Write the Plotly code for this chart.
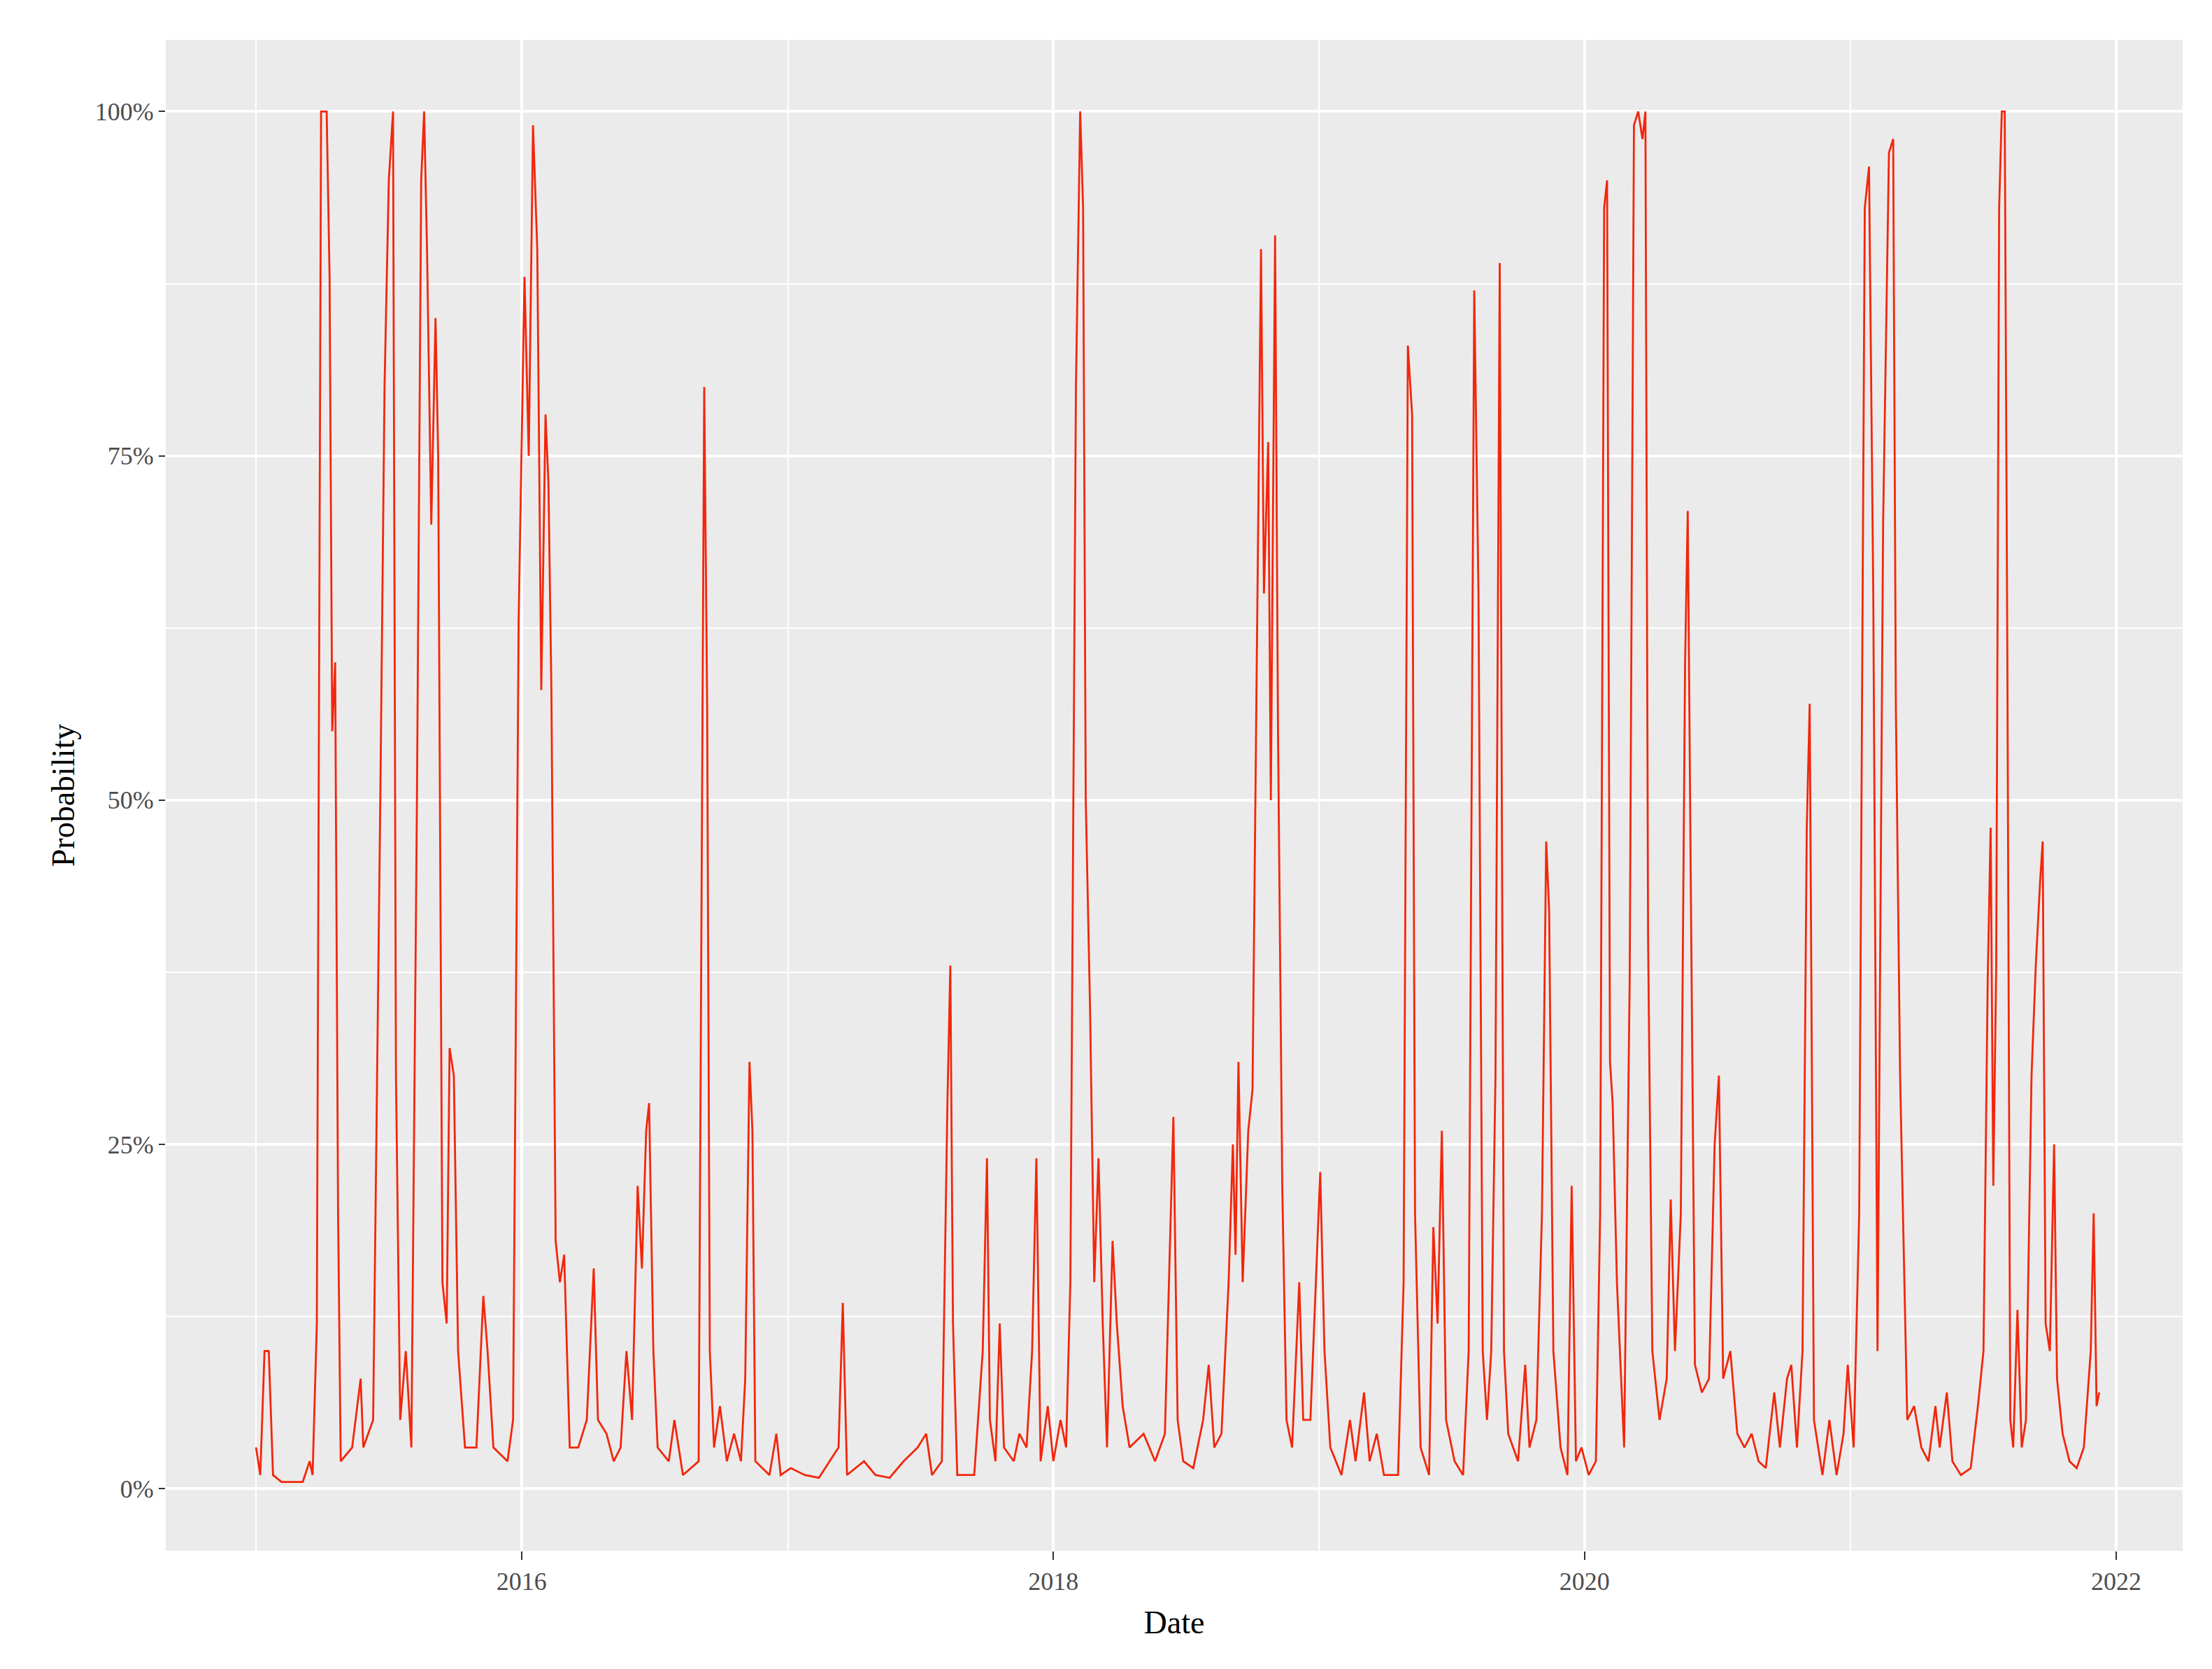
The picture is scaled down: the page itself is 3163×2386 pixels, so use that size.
import plotly.graph_objects as go
import pandas as pd
import numpy as np

# decimal-year positions and probability (%)
years = [2015.000,2015.016,2015.032,2015.048,2015.064,2015.096,2015.176,2015.202,2015.213,2015.229,2015.245,2015.266,2015.277,2015.287,2015.298,2015.309,2015.319,2015.362,2015.394,2015.404,2015.441,2015.468,2015.484,2015.500,2015.516,2015.527,2015.543,2015.564,2015.585,2015.606,2015.622,2015.633,2015.644,2015.660,2015.676,2015.686,2015.702,2015.718,2015.729,2015.745,2015.761,2015.787,2015.830,2015.856,2015.872,2015.894,2015.947,2015.968,2015.989,
2016.011,2016.027,2016.043,2016.059,2016.074,2016.090,2016.101,2016.112,2016.128,2016.144,2016.160,2016.181,2016.213,2016.245,2016.271,2016.287,2016.319,2016.346,2016.372,2016.394,2016.415,2016.436,2016.452,2016.468,2016.479,2016.495,2016.511,2016.553,2016.574,2016.606,2016.665,2016.686,2016.697,2016.707,2016.723,2016.745,2016.771,2016.798,2016.824,2016.840,2016.856,2016.867,2016.878,2016.931,2016.957,2016.973,
2017.011,2017.064,2017.117,2017.191,2017.207,2017.223,2017.287,2017.330,2017.383,2017.436,2017.489,2017.521,2017.543,2017.580,2017.601,2017.612,2017.622,2017.638,2017.702,2017.734,2017.750,2017.761,2017.782,2017.798,2017.814,2017.851,2017.872,2017.899,2017.920,2017.936,2017.952,2017.979,
2018.000,2018.027,2018.048,2018.064,2018.085,2018.101,2018.112,2018.122,2018.138,2018.154,2018.170,2018.186,2018.202,2018.223,2018.239,2018.261,2018.287,2018.340,2018.383,2018.420,2018.452,2018.468,2018.489,2018.527,2018.564,2018.585,2018.606,2018.633,2018.660,2018.676,2018.686,2018.697,2018.713,2018.734,2018.750,2018.766,2018.782,2018.793,2018.809,2018.819,2018.835,2018.846,2018.862,2018.878,2018.899,2018.926,2018.941,2018.968,2018.989,
2019.005,2019.021,2019.043,2019.085,2019.117,2019.138,2019.170,2019.191,2019.218,2019.245,2019.298,2019.319,2019.335,2019.351,2019.362,2019.383,2019.415,2019.431,2019.447,2019.463,2019.479,2019.511,2019.543,2019.564,2019.585,2019.601,2019.617,2019.633,2019.649,2019.665,2019.681,2019.697,2019.713,2019.750,2019.777,2019.793,2019.819,2019.840,2019.856,2019.867,2019.883,2019.910,2019.936,2019.952,2019.968,2019.989,
2020.016,2020.043,2020.059,2020.074,2020.085,2020.096,2020.106,2020.122,2020.149,2020.170,2020.186,2020.202,2020.218,2020.229,2020.239,2020.255,2020.282,2020.309,2020.324,2020.340,2020.362,2020.378,2020.388,2020.399,2020.415,2020.441,2020.468,2020.489,2020.505,2020.521,2020.548,2020.574,2020.601,2020.628,2020.654,2020.681,2020.713,2020.734,2020.761,2020.777,2020.798,2020.819,2020.835,2020.846,2020.862,2020.894,2020.920,2020.947,2020.973,2020.989,
2021.011,2021.032,2021.053,2021.069,2021.085,2021.101,2021.122,2021.144,2021.160,2021.170,2021.186,2021.213,2021.239,2021.266,2021.293,2021.319,2021.335,2021.362,2021.383,2021.415,2021.452,2021.479,2021.500,2021.516,2021.527,2021.537,2021.548,2021.559,2021.569,2021.580,2021.590,2021.601,2021.612,2021.628,2021.644,2021.660,2021.681,2021.697,2021.713,2021.723,2021.734,2021.750,2021.766,2021.777,2021.798,2021.824,2021.851,2021.878,2021.904,2021.915,2021.926,2021.936]

probability = [3,1,10,10,1,0.5,0.5,2,1,12,100,100,88,55,60,20,2,3,8,3,5,50,80,95,100,30,5,10,3,50,95,100,90,70,85,75,15,12,32,30,10,3,3,14,10,3,2,5,63,
88,75,99,90,58,78,73,58,18,15,17,3,3,5,16,5,4,2,3,10,5,22,16,26,28,10,3,2,5,1,2,80,57,10,3,6,2,4,2,8,31,26,2,1,4,1,
1.5,1,0.8,3,13.5,1,2,1,0.8,2,3,4,1,2,28,38,12,1,1,10,24,5,2,12,3,2,4,3,10,24,2,6,
2,5,3,15,80,100,93,50,35,15,24,12,3,18,12,6,3,4,2,4,27,5,2,1.5,5,9,3,4,15,25,17,31,15,26,29,60,90,65,76,50,91,55,22,5,3,15,5,5,15,
23,10,3,1,5,2,7,2,4,1,1,15,83,78,20,3,1,19,12,26,5,2,1,10,87,65,10,5,10,30,89,10,4,2,9,3,5,20,47,42,10,3,1,22,2,3,
1,2,20,93,95,31,28,15,3,37,99,100,98,100,40,10,5,8,21,10,20,60,71,45,9,7,8,25,30,8,10,4,3,4,2,1.5,7,3,8,9,3,10,48,57,5,1,5,1,4,9,
3,20,93,96,65,10,70,97,98,57,30,5,6,3,2,6,3,7,2,1,1.5,6,10,37,48,22,38,93,100,100,60,5,3,13,3,5,30,38,44,47,12,10,25,8,4,2,1.5,3,10,20,6,7]

def to_date(y):
    yr = int(np.floor(y))
    start = pd.Timestamp(f"{yr}-01-01")
    days = (pd.Timestamp(f"{yr+1}-01-01") - start).days
    return start + pd.Timedelta(days=(y - yr) * days)

dates = [to_date(y) for y in years]
prob = [p / 100 for p in probability]

fig = go.Figure(go.Scatter(x=dates, y=prob, mode="lines",
                           line=dict(color="#F2270C", width=2.8), showlegend=False))

font = "Liberation Serif"
fig.update_layout(
    width=3163, height=2386,
    paper_bgcolor="white", plot_bgcolor="#EBEBEB",
    margin=dict(l=229, r=50, t=49, b=177),
    font=dict(family=font, color="#4D4D4D", size=36),
    xaxis=dict(range=[to_date(2014.66), to_date(2022.25)], type="date",
               tick0="2016-01-01", dtick="M24", tickformat="%Y",
               showgrid=True, gridcolor="white", gridwidth=3.5,
               minor=dict(dtick="M12", tick0="2015-01-01", showgrid=True,
                          gridcolor="white", gridwidth=1.6),
               ticks="outside", ticklen=12, tickcolor="#333333", tickwidth=2,
               zeroline=False,
               title=dict(text="Date", font=dict(size=46, color="black"), standoff=22),
               tickfont=dict(size=36, color="#4D4D4D")),
    yaxis=dict(range=[-0.045, 1.052], tickvals=[0, 0.25, 0.5, 0.75, 1.0],
               ticktext=["0%", "25%", "50%", "75%", "100%"],
               showgrid=True, gridcolor="white", gridwidth=3.5,
               minor=dict(tickvals=[0.125, 0.375, 0.625, 0.875], showgrid=True,
                          gridcolor="white", gridwidth=1.6),
               ticks="outside", ticklen=9, tickcolor="#333333", tickwidth=2,
               zeroline=False,
               title=dict(text="Probability", font=dict(size=46, color="black"), standoff=14),
               tickfont=dict(size=36, color="#4D4D4D")),
)
fig.write_html("out.html")
